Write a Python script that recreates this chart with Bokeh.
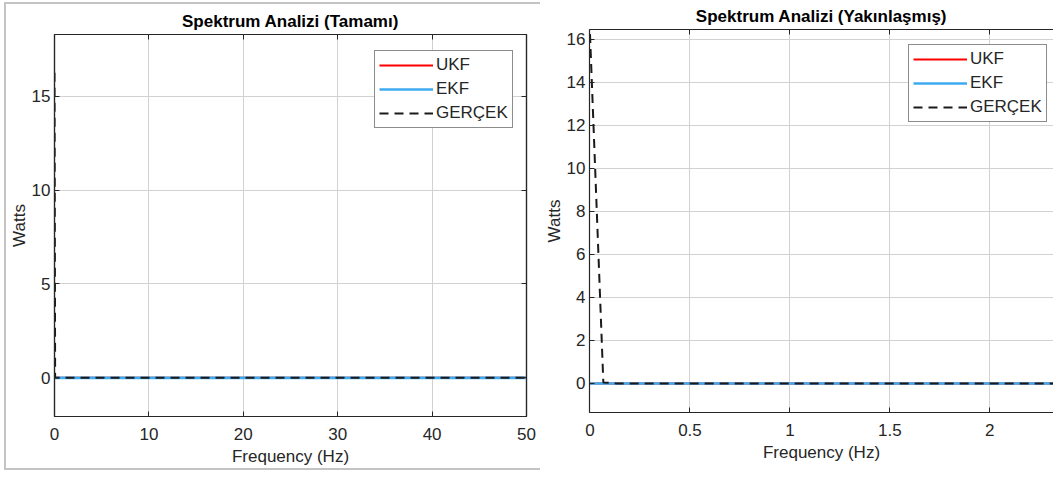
from bokeh.plotting import figure
from bokeh.layouts import row, column
from bokeh.models import FixedTicker, LinearAxis, Legend, LegendItem, CustomJSTickFormatter
from bokeh.embed import file_html
from bokeh.resources import INLINE

# Power spectrum samples (frequency bins in Hz, power in watts)
freq_hz = [0.0, 0.0667, 0.1333, 50.0]
ukf_w = [0.0, 0.0, 0.0, 0.0]
ekf_w = [0.0, 0.0, 0.0, 0.0]
gercek_w = [16.25, 0.05, 0.0, 0.0]

series_names = ["UKF", "EKF", "GERÇEK"]

full_x_ticks = [0, 10, 20, 30, 40, 50]
full_y_ticks = [0, 5, 10, 15]
zoom_x_ticks = [0, 0.5, 1, 1.5, 2]
zoom_x_labels = ["0", "0.5", "1", "1.5", "2"]
zoom_y_ticks = [0, 2, 4, 6, 8, 10, 12, 14, 16]

FONT = "Liberation Sans"
FS = "17px"
AXIS_COL = "#262626"
GRID_COL = "#d2d2d2"
RED = "#ff0000"
BLUE = "#3eaaf0"


def style_axis(ax, ticks, std):
    ax.ticker = FixedTicker(ticks=ticks)
    ax.minor_tick_line_color = None
    ax.major_tick_in = 5
    ax.major_tick_out = 0
    ax.axis_line_color = AXIS_COL
    ax.axis_line_width = 1.2
    ax.major_tick_line_color = AXIS_COL
    ax.major_label_text_color = AXIS_COL
    ax.major_label_text_font = FONT
    ax.major_label_text_font_size = FS
    ax.axis_label_text_font = FONT
    ax.axis_label_text_font_size = FS
    ax.axis_label_text_font_style = "normal"
    ax.axis_label_text_color = AXIS_COL
    ax.axis_label_standoff = std


def mirror_axis(p, side, ticks):
    # box edge with tick marks only, on the opposite side
    ax = LinearAxis(ticker=FixedTicker(ticks=ticks),
                    formatter=CustomJSTickFormatter(code="return ''"))
    ax.major_label_standoff = 0
    ax.minor_tick_line_color = None
    ax.major_tick_in = 5
    ax.major_tick_out = 0
    ax.axis_line_color = AXIS_COL
    ax.axis_line_width = 1.2
    ax.major_tick_line_color = AXIS_COL
    p.add_layout(ax, side)


def make_plot(title, width, height, borders, xr, yr, xt, yt, legend_xy,
              mirror_right, x_labels=None):
    bl, br, bt, bb = borders
    p = figure(width=width, height=height, x_range=xr, y_range=yr,
               output_backend="svg", toolbar_location=None,
               min_border_left=bl, min_border_right=br,
               min_border_top=bt, min_border_bottom=bb)
    p.title.text = title
    p.title.align = "center"
    p.title.text_font = FONT
    p.title.text_font_size = FS
    p.title.text_font_style = "bold"
    p.title.text_color = "#000000"
    p.title.standoff = 7

    xax = p.below[0]
    yax = p.left[0]
    xax.axis_label = "Frequency (Hz)"
    yax.axis_label = "Watts"
    style_axis(xax, xt, 4)
    style_axis(yax, yt, 0)
    xax.major_label_standoff = 11
    yax.major_label_standoff = 4
    if x_labels is not None:
        xax.major_label_overrides = dict(zip(xt, x_labels))

    p.xgrid.ticker = FixedTicker(ticks=xt)
    p.ygrid.ticker = FixedTicker(ticks=yt)
    p.grid.grid_line_color = GRID_COL
    p.grid.grid_line_width = 1

    p.outline_line_color = AXIS_COL if mirror_right else None
    p.outline_line_width = 1.2
    p.background_fill_color = "white"
    p.border_fill_color = "white"

    mirror_axis(p, "above", xt)
    if mirror_right:
        mirror_axis(p, "right", yt)

    r_ukf = p.line(freq_hz, ukf_w, line_color=RED, line_width=2)
    r_ekf = p.line(freq_hz, ekf_w, line_color=BLUE, line_width=2.6)
    r_ger = p.line(freq_hz, gercek_w, line_color="#1a1a1a", line_width=2,
                   line_dash="9 6")

    legend = Legend(items=[LegendItem(label=series_names[0], renderers=[r_ukf]),
                           LegendItem(label=series_names[1], renderers=[r_ekf]),
                           LegendItem(label=series_names[2], renderers=[r_ger])],
                    location=legend_xy)
    legend.label_text_font = FONT
    legend.label_text_font_size = FS
    legend.label_text_color = AXIS_COL
    legend.glyph_width = 54
    legend.glyph_height = 20
    legend.label_height = 20
    legend.label_standoff = 3
    legend.spacing = 4
    legend.padding = 4
    legend.margin = 0
    legend.border_line_color = "#1a1a1a"
    legend.border_line_width = 1.2
    legend.background_fill_alpha = 1
    p.add_layout(legend, "center")
    return p


left = make_plot("Spektrum Analizi (Tamamı)", 534, 464, (47, 14, 30, 51),
                 (0, 50), (-2.06, 18.29), full_x_ticks, full_y_ticks,
                 (320, 288), True)

right = make_plot("Spektrum Analizi (Yakınlaşmış)", 513, 477, (49, 0, 29, 65),
                  (-0.0025, 2.3187), (-1.35, 16.46), zoom_x_ticks, zoom_y_ticks,
                  (319, 290), False, zoom_x_labels)

framed_left = column(left, styles={
    "margin-left": "4px",
    "margin-top": "2px",
    "border-left": "2px solid #c4c4c4",
    "border-top": "2px solid #c4c4c4",
    "border-bottom": "2px solid #c4c4c4",
})

page = row(framed_left, right)

open("out.html", "w").write(file_html(page, INLINE))
